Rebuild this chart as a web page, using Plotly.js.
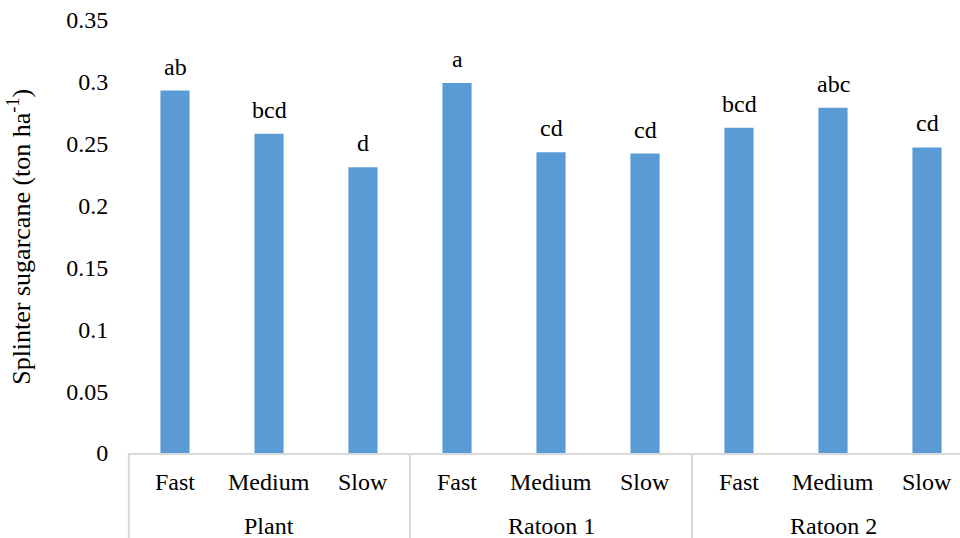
<!DOCTYPE html>
<html>
<head>
<meta charset="utf-8">
<script src="https://cdn.plot.ly/plotly-3.0.1.min.js"></script>
<style>
  html, body { margin: 0; padding: 0; background: #ffffff; }
  #chart { width: 960px; height: 538px; }
</style>
</head>
<body>
<div id="chart"></div>
<script>
// Crop stages and maturity rates
const groups = ["Plant", "Ratoon 1", "Ratoon 2"];
const rates = ["Fast", "Medium", "Slow"];

// Splinter sugarcane yield (ton/ha) per stage, ordered Fast, Medium, Slow
const plantValues = [0.293, 0.258, 0.231];
const ratoon1Values = [0.299, 0.243, 0.242];
const ratoon2Values = [0.263, 0.279, 0.247];

// Significance letters above each bar
const plantLetters = ["ab", "bcd", "d"];
const ratoon1Letters = ["a", "cd", "cd"];
const ratoon2Letters = ["bcd", "abc", "cd"];

// Y axis ticks
const yTickValues = [0, 0.05, 0.1, 0.15, 0.2, 0.25, 0.3, 0.35];
const yTickLabels = ["0", "0.05", "0.1", "0.15", "0.2", "0.25", "0.3", "0.35"];

const FONT = "Liberation Serif";
const BAR_COLOR = "#5b9bd5";
const LINE_COLOR = "#d9d9d9";

const values = plantValues.concat(ratoon1Values, ratoon2Values);
const letters = plantLetters.concat(ratoon1Letters, ratoon2Letters);
const xIdx = values.map((_, i) => i);

const trace = {
  type: "bar",
  x: xIdx,
  y: values,
  marker: { color: BAR_COLOR },
  hoverinfo: "y"
};

const annotations = [];

// letters above bars
values.forEach((v, i) => {
  annotations.push({
    x: i, y: v, xref: "x", yref: "y",
    text: letters[i], showarrow: false,
    xanchor: "center", yanchor: "bottom", yshift: 9,
    font: { family: FONT, size: 24, color: "#000000" }
  });
});

// rate labels under each bar, stage names under each group
groups.forEach((g, gi) => {
  rates.forEach((r, ri) => {
    annotations.push({
      x: gi * rates.length + ri, y: -0.068, xref: "x", yref: "paper",
      text: r, showarrow: false, xanchor: "center", yanchor: "middle",
      font: { family: FONT, size: 24, color: "#000000" }
    });
  });
  annotations.push({
    x: gi * rates.length + (rates.length - 1) / 2, y: -0.169, xref: "x", yref: "paper",
    text: g, showarrow: false, xanchor: "center", yanchor: "middle",
    font: { family: FONT, size: 24, color: "#000000" }
  });
});

// y axis title
annotations.push({
  x: -0.121, y: 0.5, xref: "paper", yref: "paper", xshift: -8,
  text: "Splinter sugarcane (ton ha<sup>-1</sup>)", showarrow: false,
  textangle: -90, xanchor: "center", yanchor: "middle",
  font: { family: FONT, size: 26, color: "#000000" }
});

// group separators below the baseline
const shapes = [];
const sepBottom = -85 / 433;
shapes.push({
  type: "line", xref: "paper", yref: "paper",
  x0: 0.001, x1: 0.001, y0: 0, y1: sepBottom,
  line: { color: LINE_COLOR, width: 2 }
});
for (let gi = 1; gi < groups.length; gi++) {
  const xs = gi * rates.length - 0.5;
  shapes.push({
    type: "line", xref: "x", yref: "paper",
    x0: xs, x1: xs, y0: 0, y1: sepBottom,
    line: { color: LINE_COLOR, width: 2 }
  });
}

const layout = {
  width: 960,
  height: 538,
  margin: { l: 128, r: 0, t: 20, b: 85, pad: 0 },
  paper_bgcolor: "#ffffff",
  plot_bgcolor: "#ffffff",
  showlegend: false,
  bargap: 0.69,
  font: { family: FONT, size: 24, color: "#000000" },
  xaxis: {
    range: [-0.5, 8.351],
    showticklabels: false,
    ticks: "",
    showgrid: false,
    zeroline: false,
    showline: true,
    linecolor: LINE_COLOR,
    linewidth: 2,
    fixedrange: true
  },
  yaxis: {
    range: [0, 0.35],
    tickvals: yTickValues,
    ticktext: yTickLabels,
    ticks: "outside",
    ticklen: 14,
    tickcolor: "rgba(0,0,0,0)",
    showgrid: false,
    zeroline: false,
    showline: false,
    tickfont: { family: FONT, size: 24, color: "#000000" },
    fixedrange: true
  },
  annotations: annotations,
  shapes: shapes
};

Plotly.newPlot("chart", [trace], layout, { displayModeBar: false, staticPlot: true });
</script>
</body>
</html>
